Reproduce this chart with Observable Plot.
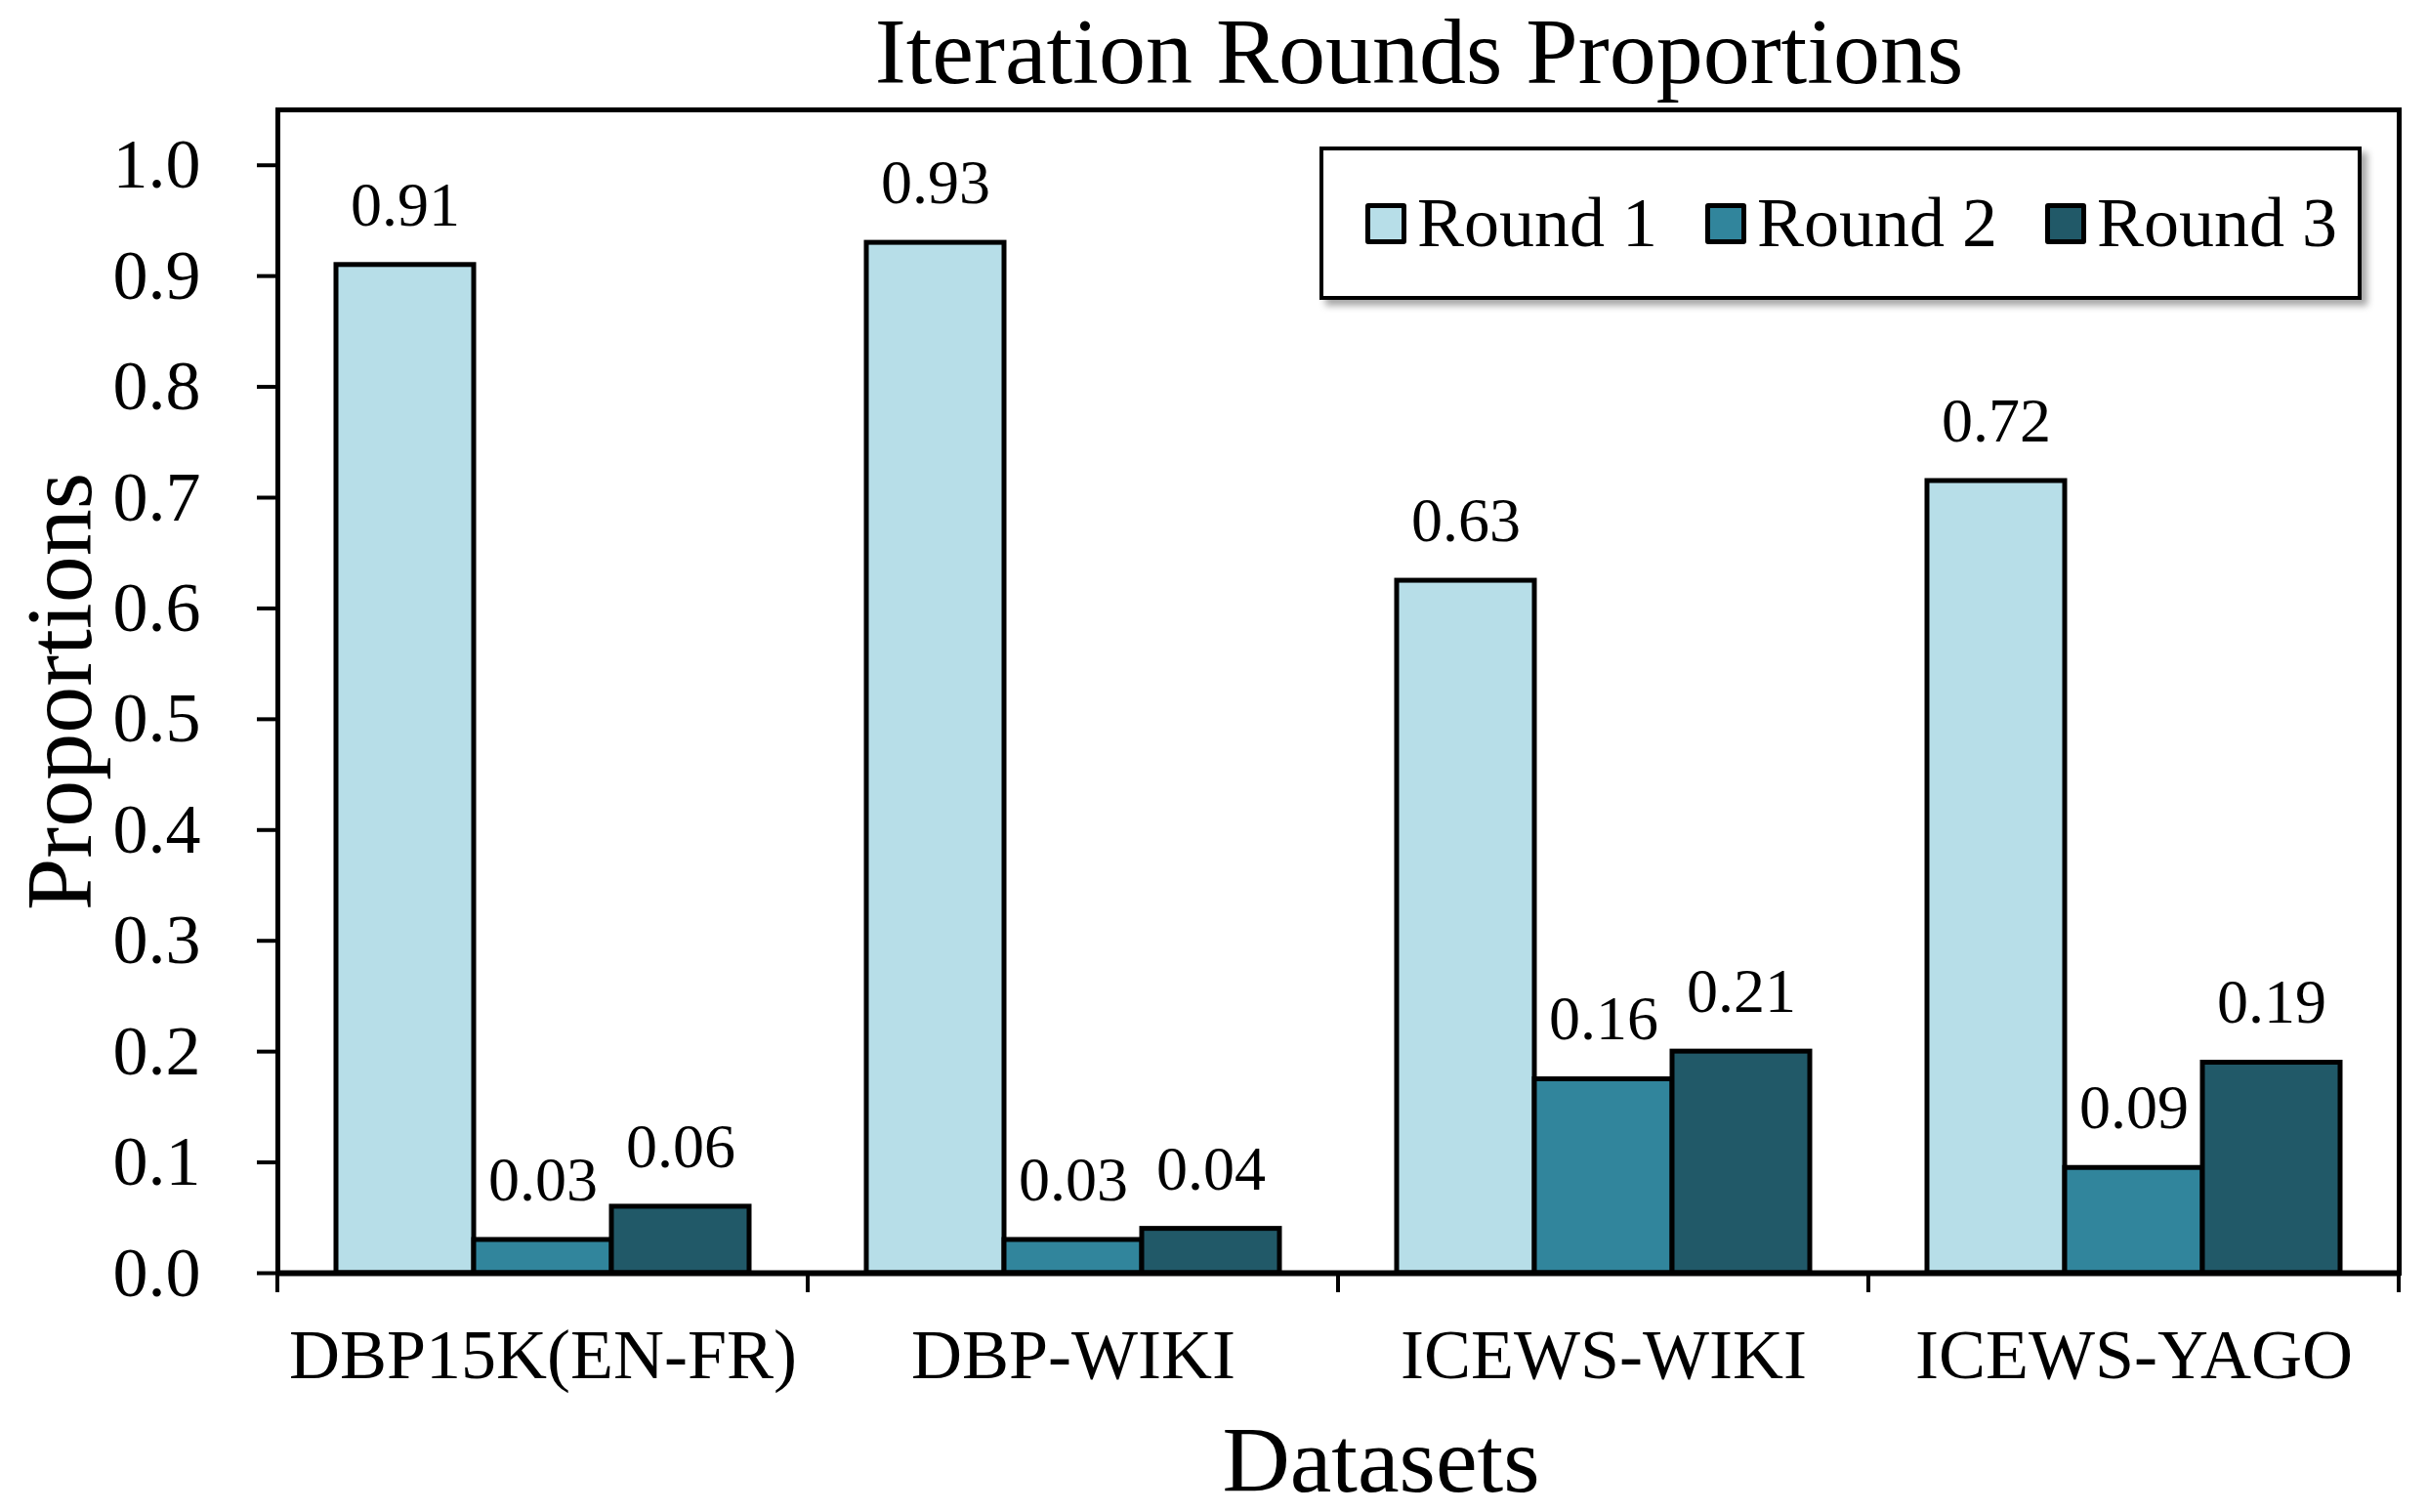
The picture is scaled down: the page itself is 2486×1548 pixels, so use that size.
<!DOCTYPE html>
<html>
<head>
<meta charset="utf-8">
<script src="https://cdn.jsdelivr.net/npm/d3@7"></script>
<script src="https://cdn.jsdelivr.net/npm/@observablehq/plot@0.6"></script>
<style>
  html, body { margin: 0; padding: 0; background: #fff; }
  #wrap { position: relative; width: 2486px; height: 1548px; overflow: hidden;
          font-family: "Liberation Serif", "Times New Roman", serif; color: #000; background: #fff; }
  #title { height: 100px; line-height: 106px; font-size: 96px; text-align: center;
           padding-left: 420px; box-sizing: border-box; white-space: nowrap; }
  #chart svg { display: block; }
  #xlabel { height: 103px; line-height: 99px; font-size: 96px; text-align: center;
            padding-left: 342px; box-sizing: border-box; white-space: nowrap; }
  #legend { position: absolute; left: 1351px; top: 150px; width: 1067px; height: 157px;
            box-sizing: border-box; border: 4px solid #000; background: #fff;
            box-shadow: 6px 6px 7px rgba(0,0,0,0.35); }
  .item { position: absolute; top: 0; height: 149px; display: flex; align-items: center;
          font-size: 72px; white-space: nowrap; }
  .sw { width: 32px; height: 32px; border: 5px solid #000; border-radius: 3px; margin-right: 11px; }
</style>
</head>
<body>
<div id="wrap">
  <div id="title">Iteration Rounds Proportions</div>
  <div id="chart"></div>
  <div id="xlabel">Datasets</div>
  <div id="legend"></div>
</div>
<script>
// ---- data ----
const datasets = ["DBP15K(EN-FR)", "DBP-WIKI", "ICEWS-WIKI", "ICEWS-YAGO"];
const rounds = ["Round 1", "Round 2", "Round 3"];
const round1 = [0.91, 0.93, 0.625, 0.715];
const round2 = [0.03, 0.03, 0.175, 0.095];
const round3 = [0.06, 0.04, 0.20, 0.19];
const labels1 = ["0.91", "0.93", "0.63", "0.72"];
const labels2 = ["0.03", "0.03", "0.16", "0.09"];
const labels3 = ["0.06", "0.04", "0.21", "0.19"];
const yTicks = [0, 0.1, 0.2, 0.3, 0.4, 0.5, 0.6, 0.7, 0.8, 0.9, 1.0];
const colors = ["#B7DEE8", "#31859C", "#215968"];

const series = [round1, round2, round3];
const labelSeries = [labels1, labels2, labels3];
const data = datasets.flatMap((ds, i) =>
  rounds.map((r, j) => ({dataset: ds, round: r, value: series[j][i], label: labelSeries[j][i]})));

const W = 2486, H = 1345, ML = 283, MR = 29, MT = 12, MB = 142;

function build(superFrame) {
  const marks = [
    Plot.barY(data, {fx: "dataset", x: "round", y: "value", fill: "round", stroke: "#000", strokeWidth: 5}),
    Plot.ruleY([0], {strokeWidth: 6}),
    Plot.text(data, {fx: "dataset", x: "round", y: "value", text: "label", dy: -61, fontSize: 64}),
    Plot.axisY({ticks: yTicks, tickFormat: d3.format(".1f"), tickSize: 21, tickPadding: 58,
                fontSize: 72, strokeWidth: 4, label: null}),
    Plot.axisY({ticks: yTicks, tickFormat: () => "", tickSize: 0, label: "Proportions",
                labelAnchor: "center", labelArrow: "none", labelOffset: 260, fontSize: 96}),
    Plot.axisFx({anchor: "bottom", tickSize: 0, tickPadding: 56, fontSize: 72, label: null})
  ];
  if (superFrame) marks.push(Plot.frame({facet: "super", strokeWidth: 5}));
  return Plot.plot({
    width: W, height: H,
    marginTop: MT, marginRight: MR, marginBottom: MB, marginLeft: ML,
    style: {fontFamily: "'Liberation Serif', 'Times New Roman', serif", background: "#fff", color: "#000", overflow: "visible"},
    fx: {domain: datasets, padding: 0, axis: null, label: null},
    x: {domain: rounds, paddingInner: 0, paddingOuter: 0.414, axis: null},
    y: {domain: [0, 1.05], axis: null},
    color: {domain: rounds, range: colors},
    marks
  });
}

let chart, usedSuper = true;
try { chart = build(true); } catch (e) { usedSuper = false; chart = build(false); }
document.getElementById("chart").appendChild(chart);

const svg = d3.select(chart);
const fx = chart.scale("fx");
const yb = H - MB;
const edges = datasets.map(d => fx.apply(d)).concat([fx.apply(datasets[datasets.length - 1]) + fx.bandwidth]);
const g = svg.append("g").attr("stroke", "#000").attr("stroke-width", 4);
g.selectAll("line").data(edges).join("line")
  .attr("x1", d => d).attr("x2", d => d).attr("y1", yb).attr("y2", yb + 20);
if (!usedSuper) {
  svg.append("rect").attr("x", ML).attr("y", MT).attr("width", W - ML - MR).attr("height", H - MT - MB)
    .attr("fill", "none").attr("stroke", "#000").attr("stroke-width", 5);
}

// legend
const color = chart.scale("color");
const legend = document.getElementById("legend");
const lefts = [43, 391, 739];
rounds.forEach((r, j) => {
  const item = document.createElement("div");
  item.className = "item";
  item.style.left = lefts[j] + "px";
  const sw = document.createElement("span");
  sw.className = "sw";
  sw.style.background = color.apply(r);
  const t = document.createElement("span");
  t.textContent = r;
  item.appendChild(sw); item.appendChild(t);
  legend.appendChild(item);
});
</script>
</body>
</html>
